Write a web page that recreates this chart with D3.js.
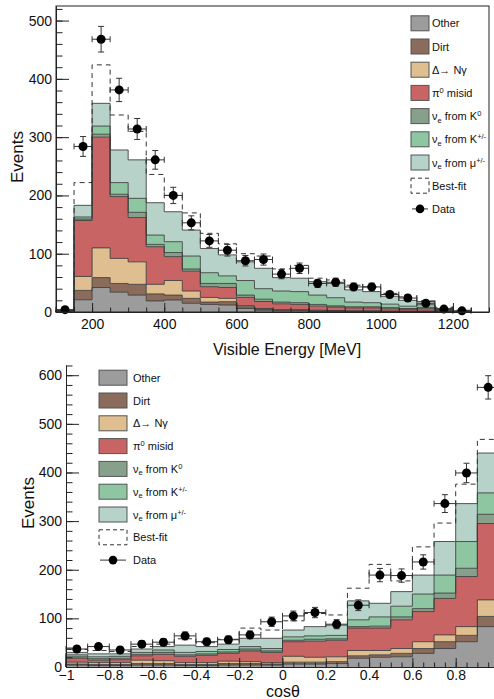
<!DOCTYPE html>
<html>
<head>
<meta charset="utf-8">
<script src="https://cdn.jsdelivr.net/npm/d3@7"></script>
<style>
  body { margin: 0; background: #fff; }
  svg { display: block; font-family: "Liberation Sans", Arial, Helvetica, sans-serif; }
</style>
</head>
<body>
<div id="chart"></div>
<script>
// ---------- top panel: visible energy ----------
const energyEdges = [100, 150, 200, 250, 300, 350, 400, 450, 500, 550, 600, 650, 700,
  750, 800, 850, 900, 950, 1000, 1050, 1100, 1150, 1200, 1250];
const eOther = [1, 21, 42, 34, 29, 19, 20.6, 15, 13, 12, 6, 3, 2, 2, 1, 1, 1, 1, 0.5, 0.5, 0.5, 0.5, 0.2];
const eDirt  = [0.5, 16, 17, 15, 18.5, 12, 8.4, 8.4, 4, 5.7, 3, 2, 1, 1, 1, 1, 0.5, 0.5, 0.5, 0.5, 0.5, 0.5, 0.2];
const eDelta = [0, 24, 51, 43, 38.5, 16.5, 25, 12.6, 8, 5.7, 2, 1, 1, 1, 1, 0.5, 0.5, 0.5, 0.5, 0.5, 0.5, 0, 0];
const ePi0   = [1, 96, 190, 106, 76, 64.5, 41, 34, 18.4, 18.6, 14, 12, 10, 9, 7, 6, 5, 5, 4, 3, 4, 1.5, 0.3];
const eK0    = [0, 2.5, 5, 4, 9, 4, 7, 3.7, 5.6, 7, 4, 4, 3, 3, 3, 2, 2, 2, 2, 1.5, 2, 1, 0.1];
const eKpm   = [0, 3.5, 14, 20, 24, 16, 18.6, 22.3, 18.4, 13, 25, 18, 19, 19, 16, 14, 8, 7, 6, 4, 5, 1, 0.1];
const eMu    = [0.5, 20, 39, 56, 66, 55.5, 51.4, 44.6, 41.6, 36, 32, 35, 23, 23, 23, 24.5, 21, 19, 13.5, 10, 5.5, 1.5, 0.1];
const eBestFit = [4, 222, 424, 338, 310, 236, 200, 170, 135, 117, 100, 96, 74, 80, 58, 55, 46, 43, 32, 26, 19, 8, 3];
const eData    = [4, 284, 468, 381, 314, 261, 200, 153, 122, 106, 88, 90, 65, 75, 49, 51, 43, 43, 30, 24, 15, 5, 2];
const eDataErr = [2, 17, 22, 20, 18, 16, 14, 12, 11, 10, 9, 9.5, 8, 9, 7, 7, 6.5, 6.5, 5.5, 5, 4, 2.2, 1.5];
const energyTicks = [200, 400, 600, 800, 1000, 1200];
const eventTicksTop = [0, 100, 200, 300, 400, 500];

// ---------- bottom panel: cos theta ----------
const cosEdges = [-1, -0.9, -0.8, -0.7, -0.6, -0.5, -0.4, -0.3, -0.2, -0.1, 0,
  0.1, 0.2, 0.3, 0.4, 0.5, 0.6, 0.7, 0.8, 0.9, 1];
const cOther = [4, 3, 3, 4, 4, 3, 3, 4, 4, 4, 6, 6, 7, 18, 20, 21, 28, 38, 52, 83];
const cDirt  = [2, 2, 2, 3, 3, 2, 2, 3, 3, 2, 4, 4, 4, 5, 5, 7, 10, 14, 13, 21];
const cDelta = [4, 4, 4, 7, 6, 4, 4, 5, 4, 3, 12, 10, 10, 11, 9, 10, 14, 14, 18, 34];
const cPi0   = [8, 5, 6, 9, 13, 13, 15, 16, 22, 21, 30, 33, 34, 46, 46, 59, 62, 75, 103, 157];
const cK0    = [3, 3, 3, 3, 4, 3, 3, 3, 4, 3, 3, 4, 3, 3, 4, 6, 6, 11, 17, 19];
const cKpm   = [4, 4, 4, 4, 5, 5, 5, 5, 5, 5, 7, 7, 7, 14, 19, 22, 30, 37, 55, 44];
const cMu    = [5, 6, 5, 7, 7, 15, 10, 11, 17, 21, 14, 19, 21, 39, 28, 30, 39, 69, 78, 82];
const cBestFit = [36, 34, 32, 42, 47, 58, 50, 57, 80, 76, 95, 110, 107, 162, 211, 177, 247, 296, 376, 468];
const cData    = [37, 42, 35, 47, 51, 64, 52, 56, 66, 93, 105, 112, 88, 127, 189, 188, 216, 336, 399, 575];
const cDataErr = [6, 6.5, 6, 7, 7, 8, 7, 7.5, 8, 9.6, 10, 10.6, 9.4, 11, 13.7, 13.7, 14.7, 18.3, 20, 24];
const cosTicks = [-1, -0.8, -0.6, -0.4, -0.2, 0, 0.2, 0.4, 0.6, 0.8];
const eventTicksBottom = [0, 100, 200, 300, 400, 500, 600];

// ---------- legend ----------
const keys = ["other", "dirt", "delta", "pi0", "k0", "kpm", "mu"];
const fills = {
  other: "#9c9c9c", dirt: "#8b6b5b", delta: "#dfbf8f", pi0: "#c96465",
  k0: "#87a08b", kpm: "#8fc6a2", mu: "#b6d2c9"
};
const legendLabels = [
  [["Other"]],
  [["Dirt"]],
  [["\u0394\u2192 N\u03b3"]],
  [["\u03c0"], ["0", "sup"], [" misid"]],
  [["\u03bd"], ["e", "sub"], [" from K"], ["0", "sup"]],
  [["\u03bd"], ["e", "sub"], [" from K"], ["+/-", "sup"]],
  [["\u03bd"], ["e", "sub"], [" from \u03bc"], ["+/-", "sup"]],
  [["Best-fit"]],
  [["Data"]]
];

const W = 494, H = 699;
const svg = d3.select("#chart").append("svg").attr("width", W).attr("height", H);

function rowsFrom(arrs) {
  return arrs[0].map((_, i) => {
    const r = {};
    keys.forEach((k, j) => (r[k] = arrs[j][i]));
    return r;
  });
}

function drawPanel(cfg) {
  const { x, y, edges, rows, best, data, err } = cfg;
  const g = svg.append("g");
  const series = d3.stack().keys(keys)(rows);
  const nb = edges.length - 1;

  // stacked filled steps
  const area = d3.area()
    .curve(d3.curveStepAfter)
    .x((d) => x(d.x))
    .y0((d) => y(d.y0))
    .y1((d) => y(d.y1));
  const outline = d3.line()
    .curve(d3.curveStepAfter)
    .x((d) => x(d.x))
    .y((d) => y(d.y));

  series.forEach((s) => {
    const pts = s.map((d, i) => ({ x: edges[i], y0: d[0], y1: d[1] }));
    pts.push({ x: edges[nb], y0: s[nb - 1][0], y1: s[nb - 1][1] });
    g.append("path").attr("d", area(pts)).attr("fill", fills[s.key]);
  });
  series.forEach((s) => {
    const pts = [{ x: edges[0], y: 0 }];
    s.forEach((d, i) => pts.push({ x: edges[i], y: d[1] }));
    pts.push({ x: edges[nb], y: s[nb - 1][1] }, { x: edges[nb], y: 0 });
    g.append("path").attr("d", outline(pts))
      .attr("fill", "none").attr("stroke", "#3a3a3a").attr("stroke-width", 1)
      .attr("stroke-opacity", 0.85);
  });

  // best fit dashed step
  const bpts = [{ x: edges[0], y: 0 }];
  best.forEach((v, i) => bpts.push({ x: edges[i], y: v }));
  bpts.push({ x: edges[nb], y: best[nb - 1] }, { x: edges[nb], y: 0 });
  g.append("path").attr("d", outline(bpts))
    .attr("fill", "none").attr("stroke", "#333").attr("stroke-width", 1)
    .attr("stroke-dasharray", "5,4");

  // data points with error bars
  const pts = data.map((v, i) => ({ lo: edges[i], hi: edges[i + 1], v, e: err[i] }));
  const eg = g.append("g").attr("stroke", "#333").attr("stroke-width", 1);
  pts.forEach((d) => {
    const xc = x((d.lo + d.hi) / 2), yc = y(d.v);
    const x0 = x(d.lo), x1 = x(d.hi), yTop = y(d.v + d.e), yBot = y(Math.max(0, d.v - d.e));
    eg.append("line").attr("x1", x0).attr("x2", x1).attr("y1", yc).attr("y2", yc);
    eg.append("line").attr("x1", x0).attr("x2", x0).attr("y1", yc - 3).attr("y2", yc + 3);
    eg.append("line").attr("x1", x1).attr("x2", x1).attr("y1", yc - 3).attr("y2", yc + 3);
    eg.append("line").attr("x1", xc).attr("x2", xc).attr("y1", yTop).attr("y2", yBot);
    eg.append("line").attr("x1", xc - 3).attr("x2", xc + 3).attr("y1", yTop).attr("y2", yTop);
    eg.append("line").attr("x1", xc - 3).attr("x2", xc + 3).attr("y1", yBot).attr("y2", yBot);
  });
  g.append("g").selectAll("circle").data(pts).join("circle")
    .attr("cx", (d) => x((d.lo + d.hi) / 2)).attr("cy", (d) => y(d.v))
    .attr("r", 4.5).attr("fill", "#000");

  // axes
  const [x0] = x.range(), [y0] = y.range();
  const styleAxis = (a) => {
    a.attr("font-family", null).attr("font-size", 14);
    a.selectAll("line").attr("stroke", "#222");
    a.selectAll("path").attr("stroke", "#222");
    a.selectAll("text").attr("fill", "#111");
  };
  const minorY = g.append("g").attr("transform", `translate(${x0},0)`)
    .call(d3.axisLeft(y).tickValues(cfg.yMinor).tickSize(-6.5).tickFormat(""));
  minorY.select(".domain").remove();
  styleAxis(minorY);
  const majorY = g.append("g").attr("transform", `translate(${x0},0)`)
    .call(d3.axisLeft(y).tickValues(cfg.yTicks).tickSize(-13).tickSizeOuter(0).tickPadding(4));
  styleAxis(majorY);
  const minorX = g.append("g").attr("transform", `translate(0,${y0})`)
    .call(d3.axisBottom(x).tickValues(cfg.xMinor).tickSize(-4.5).tickFormat(""));
  minorX.select(".domain").remove();
  styleAxis(minorX);
  const majorX = g.append("g").attr("transform", `translate(0,${y0})`)
    .call(d3.axisBottom(x).tickValues(cfg.xTicks).tickSize(-9).tickSizeOuter(0)
      .tickPadding(cfg.xPad).tickFormat(cfg.xFormat));
  styleAxis(majorX);

  return g;
}

// ---------- top panel ----------
const xTop = d3.scaleLinear().domain([100, 1300]).range([56, 489]);
const yTop = d3.scaleLinear().domain([0, 525]).range([312, 6]);
drawPanel({
  x: xTop, y: yTop, edges: energyEdges,
  rows: rowsFrom([eOther, eDirt, eDelta, ePi0, eK0, eKpm, eMu]),
  best: eBestFit, data: eData, err: eDataErr,
  yTicks: eventTicksTop, yMinor: d3.range(0, 525, 20),
  xTicks: energyTicks, xMinor: d3.range(100, 1301, 50), xPad: 7,
  xFormat: d3.format("d")
});
svg.append("rect").attr("x", 56).attr("y", 6).attr("width", 433).attr("height", 306)
  .attr("fill", "none").attr("stroke", "#222").attr("stroke-width", 1);
svg.append("text").attr("x", 287).attr("y", 355).attr("text-anchor", "middle")
  .attr("font-size", 16).attr("fill", "#111").text("Visible Energy [MeV]");
svg.append("text").attr("transform", "translate(23,157) rotate(-90)")
  .attr("text-anchor", "middle").attr("font-size", 17).attr("fill", "#111").text("Events");

// ---------- bottom panel ----------
const xBot = d3.scaleLinear().domain([-1, 1]).range([66, 499]);
const yBot = d3.scaleLinear().domain([0, 621]).range([667, 365]);
drawPanel({
  x: xBot, y: yBot, edges: cosEdges,
  rows: rowsFrom([cOther, cDirt, cDelta, cPi0, cK0, cKpm, cMu]),
  best: cBestFit, data: cData, err: cDataErr,
  yTicks: eventTicksBottom, yMinor: d3.range(0, 621, 20),
  xTicks: cosTicks, xMinor: d3.range(-1, 1.001, 0.05), xPad: 3,
  xFormat: d3.format("~g")
});
svg.append("text").attr("x", 283).attr("y", 697).attr("text-anchor", "middle")
  .attr("font-size", 16).attr("fill", "#111").text("cos\u03b8");
svg.append("text").attr("transform", "translate(34,503) rotate(-90)")
  .attr("text-anchor", "middle").attr("font-size", 17).attr("fill", "#111").text("Events");

// ---------- legends ----------
function drawLegend(cfg) {
  const g = svg.append("g").attr("font-size", 11).attr("fill", "#111");
  legendLabels.forEach((parts, i) => {
    const cy = cfg.y0 + i * cfg.dy;
    const sx = cfg.sx, sw = cfg.sw, sh = cfg.sh;
    if (i < keys.length) {
      g.append("rect").attr("x", sx).attr("y", cy - sh / 2).attr("width", sw).attr("height", sh)
        .attr("fill", fills[keys[i]]).attr("stroke", "#555").attr("stroke-width", 1);
    } else if (i === keys.length) {
      g.append("rect").attr("x", sx).attr("y", cy - sh / 2).attr("width", sw).attr("height", sh)
        .attr("fill", "none").attr("stroke", "#333").attr("stroke-width", 1)
        .attr("stroke-dasharray", "4,3");
    } else {
      g.append("line").attr("x1", sx + 1).attr("x2", sx + sw - 1).attr("y1", cy).attr("y2", cy)
        .attr("stroke", "#333");
      g.append("circle").attr("cx", sx + sw / 2).attr("cy", cy).attr("r", 4.3).attr("fill", "#000");
    }
    const t = g.append("text").attr("x", cfg.tx).attr("y", cy + 4);
    parts.forEach(([s, kind]) => {
      const ts = t.append("tspan").text(s);
      if (kind === "sup") ts.attr("font-size", 7.5).attr("dy", -4);
      else if (kind === "sub") ts.attr("font-size", 7.5).attr("dy", 2.5);
      else if (t.node().childNodes.length > 1) {
        const prev = parts[t.node().childNodes.length - 2][1];
        if (prev === "sup") ts.attr("dy", 4);
        if (prev === "sub") ts.attr("dy", -2.5);
      }
    });
  });
}
drawLegend({ sx: 411, sw: 18, sh: 15, tx: 432, y0: 23.3, dy: 23.2 });
drawLegend({ sx: 99, sw: 28, sh: 15, tx: 133, y0: 377.7, dy: 22.8 });
</script>
</body>
</html>
